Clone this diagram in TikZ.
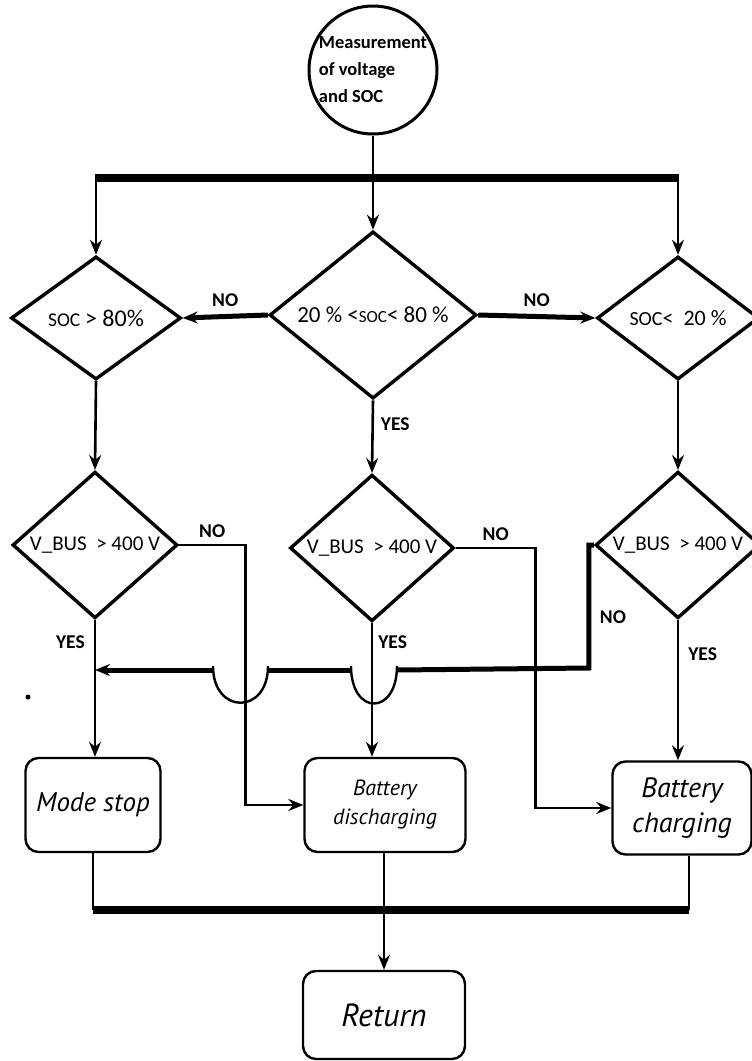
\documentclass[tikz,border=0pt]{standalone}
\usepackage{fontspec}
\setmainfont{Carlito}
\newfontfamily\boxfont{PT Sans}
\usetikzlibrary{arrows.meta,shapes.geometric,positioning}
\newcommand{\fsz}[1]{\fontsize{#1}{#1}\selectfont}
\tikzset{
  start/.style={
    draw,
    circle,
    line width=3pt,
    minimum size=128pt,
    inner sep=0pt,
    align=left,
    font=\bfseries\fontsize{18.5}{27}\selectfont
  },
  test/.style={
    draw,
    diamond,
    line width=3.4pt,
    inner sep=0pt,
    align=center,
    font=\fsz{21}
  },
  action/.style={
    draw,
    rounded corners=13pt,
    line width=2.4pt,
    inner sep=0pt,
    align=center,
    font=\boxfont\itshape
  },
  flow/.style={-{Stealth[length=15pt,width=12pt,inset=5pt]},line width=2.6pt},
  plain/.style={line width=2.6pt},
  bus/.style={line width=8pt},
  feed/.style={line width=5pt},
  hop/.style={line width=2.4pt},
  answer/.style={font=\bfseries\fsz{19.5},inner sep=1pt}
}

\begin{document}
\begin{tikzpicture}[x=1pt,y=-1pt]
  \useasboundingbox (0,0) rectangle (752,1061);

  \node[start] (meas) at (373,70) {Measurement\\of voltage\\and SOC};

  \node[test,minimum width=170pt,minimum height=123pt] (socHigh) at (96,318) {{\fsz{19.5}SOC} {\fsz{24}\textgreater{} 80\%}};
  \node[test,minimum width=207pt,minimum height=130pt,font=\fsz{23}] (socMid) at (373,315) {20 \% \textless{\fsz{17}SOC}\textless{} 80 \%};
  \node[test,minimum width=162pt,minimum height=123pt,font=\fsz{22}] (socLow) at (678,318) {{\fsz{20}SOC}\textless~ 20 \%};

  \node[test,minimum width=165pt,minimum height=124pt] (busLeft) at (95,545) {V\_BUS ~\textgreater{} 400 V};
  \node[test,minimum width=164pt,minimum height=123pt] (busMid) at (372,548) {V\_BUS ~\textgreater{} 400 V};
  \node[test,minimum width=165pt,minimum height=124pt] (busRight) at (678,545) {V\_BUS ~\textgreater{} 400 V};

  \node[action,minimum width=135pt,minimum height=94pt,font=\boxfont\itshape\fsz{27}] (modeStop) at (93,805) {Mode stop};
  \node[action,minimum width=161pt,minimum height=94pt,font=\boxfont\itshape\fontsize{22}{29}\selectfont] (discharge) at (385,805) {Battery\\discharging};
  \node[action,minimum width=139pt,minimum height=93pt,font=\boxfont\itshape\fontsize{28}{35}\selectfont] (charge) at (682,808) {Battery\\charging};
  \node[action,minimum width=162pt,minimum height=88pt,font=\boxfont\itshape\fsz{32}] (ret) at (384,1015) {Return};

  \coordinate (topL) at (96,178);
  \coordinate (topR) at (678,178);
  \coordinate (joinL) at (95,670);
  \coordinate (hopL) at (242,670);
  \coordinate (hopM) at (372,670);
  \coordinate (botL) at (93,910);
  \coordinate (botR) at (689,910);

  \draw[bus] ([xshift=-1pt]topL) -- ([xshift=1pt]topR);
  \draw[flow] (meas.south) -- (socMid.north);
  \draw[flow] (topL) -- (socHigh.north);
  \draw[flow] (topR) -- (socLow.north);

  \draw[flow,line width=5pt] (socMid.west) -- node[answer,above=6pt]{NO} (socHigh.east);
  \draw[flow,line width=5pt] (socMid.east) -- node[answer,above=6pt]{NO} (socLow.west);
  \draw[flow] (socMid.south) -- node[answer,right=6pt,pos=0.33]{YES} (busMid.north);
  \draw[flow] (socHigh.south) -- (busLeft.north);
  \draw[flow] (socLow.south) -- (busRight.north);

  \draw[flow] (busLeft.east) -- node[answer,above=5pt]{NO} ++(66,0) |- (discharge.west);
  \draw[flow] (busMid.east) -- node[answer,above=5pt]{NO} ++(80,0) |- (charge.west);

  \draw[feed] (busRight.west) -- ++(-5,0) -- ++(0,123) -- ([xshift=25pt]hopM);
  \draw[hop] ([xshift=25pt,yshift=4pt]hopM) .. controls ([xshift=25pt,yshift=-46pt]hopM) and ([xshift=-21pt,yshift=-46pt]hopM) .. ([xshift=-21pt,yshift=4pt]hopM);
  \draw[feed] ([xshift=-21pt]hopM) -- ([xshift=26pt]hopL);
  \draw[hop] ([xshift=26pt,yshift=4pt]hopL) .. controls ([xshift=26pt,yshift=-45pt]hopL) and ([xshift=-29pt,yshift=-45pt]hopL) .. ([xshift=-29pt,yshift=4pt]hopL);
  \draw[flow,line width=5pt] ([xshift=-29pt]hopL) -- (joinL);

  \draw[flow] (busLeft.south) -- node[answer,left=8pt,pos=0.16]{YES} (busLeft.south |- modeStop.north);
  \draw[flow] (busMid.south) -- node[answer,right=4pt,pos=0.14]{YES} (busMid.south |- discharge.north);
  \draw[flow] (busRight.south) -- node[answer,right=8pt,pos=0.24]{YES} (busRight.south |- charge.north);
  \node[answer] (noRight) at (613,617) {NO};

  \draw[plain] (modeStop.south) -- (modeStop.south |- botL);
  \draw[plain] ([xshift=7pt]charge.south) -- ([xshift=7pt]charge.south |- botR);
  \draw[bus] (botL) -- (botR);
  \draw[flow] ([xshift=-1pt]discharge.south) -- (ret.north);

  \fill (28,697) circle (2.5pt);
\end{tikzpicture}
\end{document}
